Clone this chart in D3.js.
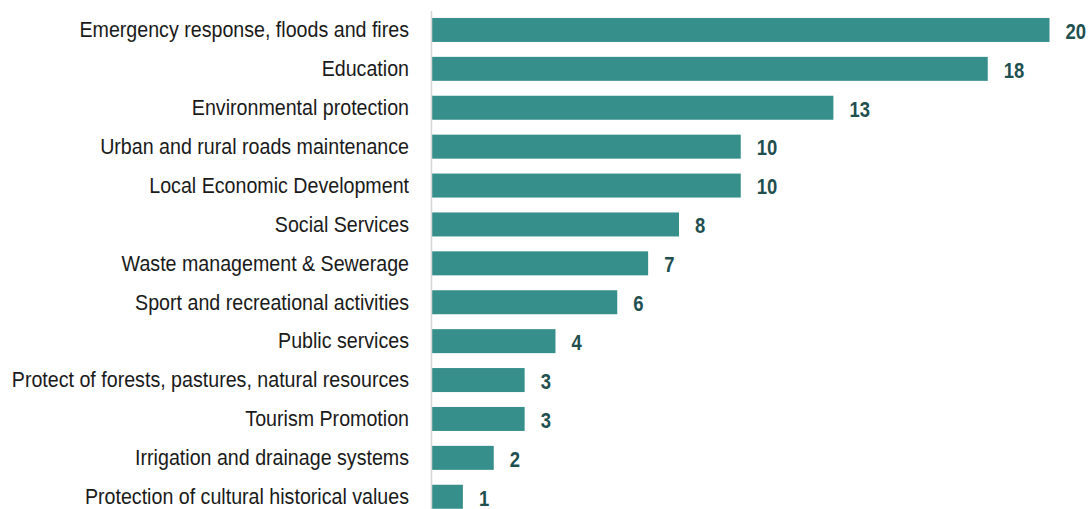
<!DOCTYPE html>
<html>
<head>
<meta charset="utf-8">
<script src="https://cdn.jsdelivr.net/npm/d3@7"></script>
<style>
  html, body { margin: 0; padding: 0; background: #fff; }
  svg { display: block; }
</style>
</head>
<body>
<svg id="chart" width="1089" height="509"></svg>
<script>
// Number of responses per municipal service area
const categories = [
  "Emergency response, floods and fires",
  "Education",
  "Environmental protection",
  "Urban and rural roads maintenance",
  "Local Economic Development",
  "Social Services",
  "Waste management & Sewerage",
  "Sport and recreational activities",
  "Public services",
  "Protect of forests, pastures, natural resources",
  "Tourism Promotion",
  "Irrigation and drainage systems",
  "Protection of cultural historical values"
];
const values = [20, 18, 13, 10, 10, 8, 7, 6, 4, 3, 3, 2, 1];

const svg = d3.select("#chart");
const FONT = "'Liberation Sans', Arial, sans-serif";

const x = d3.scaleLinear().domain([0, 20]).range([432, 1049.5]);

const n = categories.length;
const step = 38.9;
const pad = 0.383;
const y = d3.scaleBand()
  .domain(categories)
  .range([10.5, 10.5 + step * n])
  .paddingInner(pad)
  .paddingOuter(pad / 2);

const rows = categories.map((c, i) => ({ c, v: values[i] }));

// bars
svg.append("g")
  .selectAll("rect")
  .data(rows)
  .join("rect")
  .attr("x", x(0))
  .attr("y", d => y(d.c))
  .attr("width", d => x(d.v) - x(0))
  .attr("height", y.bandwidth())
  .attr("fill", "#368f8a");

// category axis (labels horizontally condensed)
const labelScale = 0.914;
const gap = 22;
const axis = svg.append("g")
  .attr("transform", "translate(431,0)")
  .call(d3.axisLeft(y).tickSize(0).tickSizeOuter(0).tickPadding(gap));
axis.select(".domain").attr("stroke", "#d6d6d6").attr("stroke-width", 1.5);
axis.selectAll(".tick text")
  .attr("x", -gap / labelScale)
  .attr("dy", "0.34em")
  .attr("transform", `scale(${labelScale},1)`)
  .attr("fill", "#1a1a1a")
  .style("font-family", FONT)
  .style("font-size", "21.5px");

// value labels (bold, condensed)
const valueScale = 0.84;
svg.append("g")
  .selectAll("g")
  .data(rows)
  .join("g")
  .attr("transform", d => `translate(${x(d.v) + 16},${y(d.c) + y.bandwidth() / 2})`)
  .append("text")
  .attr("transform", `scale(${valueScale},1)`)
  .attr("dy", "0.4em")
  .attr("fill", "#1f4f4f")
  .style("font-family", FONT)
  .style("font-weight", "bold")
  .style("font-size", "22px")
  .text(d => d.v);
</script>
</body>
</html>
